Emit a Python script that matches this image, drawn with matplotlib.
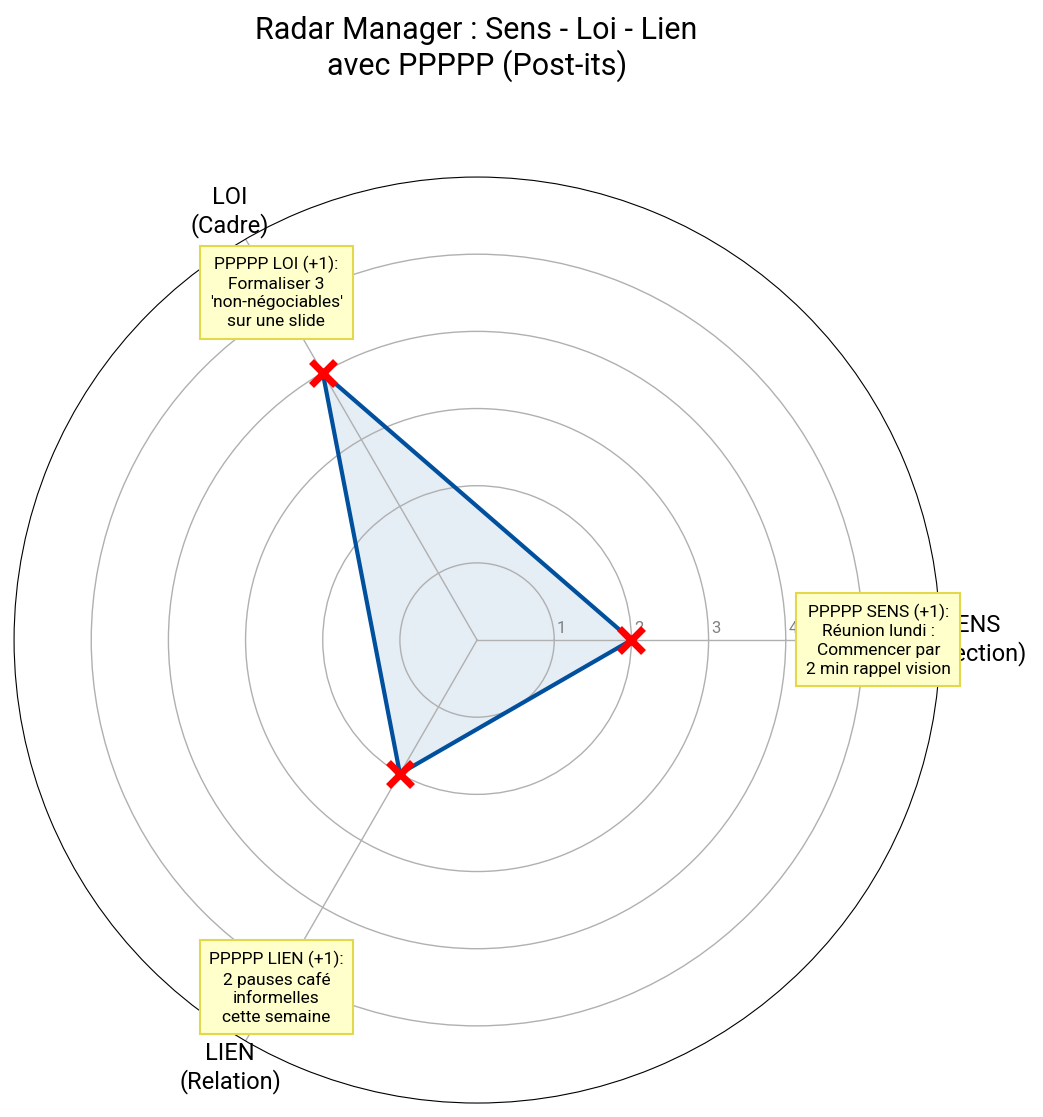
import numpy as np
import matplotlib.pyplot as plt

plt.rcParams['font.family'] = ['Roboto', 'DejaVu Sans']

categories = ['SENS\n(Direction)', 'LOI\n(Cadre)', 'LIEN\n(Relation)']
values = [2, 4, 2]
postits = [
    "PPPPP SENS (+1):\nRéunion lundi :\nCommencer par\n2 min rappel vision",
    "PPPPP LOI (+1):\nFormaliser 3\n'non-négociables'\nsur une slide",
    "PPPPP LIEN (+1):\n2 pauses café\ninformelles\ncette semaine",
]
r_ticks = [1, 2, 3, 4, 5]
r_max = 6

angles = np.linspace(0, 2 * np.pi, len(categories), endpoint=False)
closed_angles = np.append(angles, angles[0])
closed_values = np.append(values, values[0])

fig = plt.figure(figsize=(10.43, 11.17), dpi=100)
ax = fig.add_axes([0.0134, 0.0125, 0.888, 0.829], projection='polar')

ax.fill(closed_angles, closed_values, color='#00509e', alpha=0.1)
ax.plot(closed_angles, closed_values, color='#00509e', linewidth=3)
ax.plot(angles, values, linestyle='none', marker='x', markersize=17,
        color='red', markeredgewidth=5, zorder=5)

ax.set_ylim(0, r_max)
ax.set_yticks(r_ticks)
ax.set_yticklabels([])
for t in r_ticks:
    ax.annotate(str(t), xy=(0, t), xytext=(2, 3), textcoords='offset points',
                ha='left', va='bottom', color='#808080', fontsize=12)
ax.set_xticks(angles)
ax.set_xticklabels(categories, fontsize=17)
ax.tick_params(axis='x', pad=12)
ax.grid(color='#b0b0b0', linewidth=1)

for ang, txt in zip(angles, postits):
    ax.text(ang, 5.2, txt, ha='center', va='center', fontsize=12.5, zorder=10,
            linespacing=1.3,
            bbox=dict(boxstyle='square,pad=0.55', fc='#ffffcc', ec='#e3d84b', lw=1.5))

fig.suptitle("Radar Manager : Sens - Loi - Lien\navec PPPPP (Post-its)",
             x=0.457, y=0.986, fontsize=22)

fig.savefig('out.png', dpi=100)
